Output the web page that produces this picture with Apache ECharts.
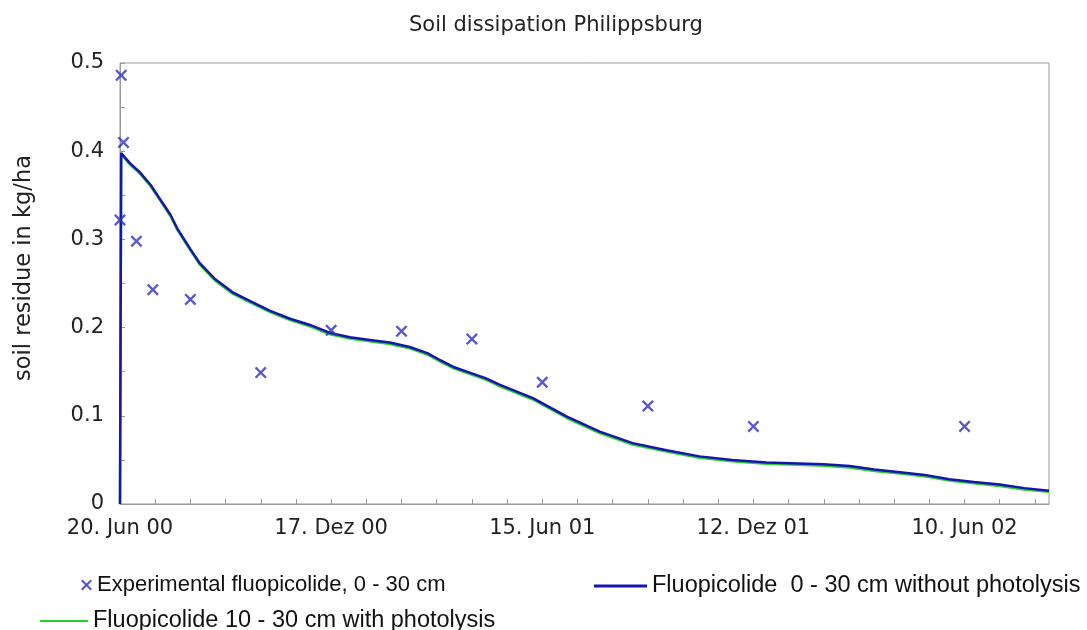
<!DOCTYPE html>
<html>
<head>
<meta charset="utf-8">
<script src="https://cdn.jsdelivr.net/npm/echarts@6/dist/echarts.min.js"></script>
<style>
html,body{margin:0;padding:0;background:#fff;}
#chart{width:1087px;height:630px;}
</style>
</head>
<body>
<div id="chart"></div>
<script>
// Days after 20 Jun 2000
const xTickLabels = ["20. Jun 00", "17. Dez 00", "15. Jun 01", "12. Dez 01", "10. Jun 02"];
const yTickLabels = ["0", "0.1", "0.2", "0.3", "0.4", "0.5"];
const yAxisTitle = "soil residue in kg/ha";

const sampleDays = [0, 1, 3, 14, 28, 60, 120, 180, 240, 300, 360, 450, 540, 720];
const sampleValues = [0.322, 0.486, 0.410, 0.298, 0.243, 0.232, 0.149, 0.197, 0.196, 0.187, 0.138, 0.111, 0.088, 0.088];

const curveDays = [0, 1, 8, 17, 26, 34, 43, 49, 60, 68, 81, 96, 111, 128, 145, 162, 179, 196, 213, 230, 247, 262, 273, 285, 298, 311, 324, 352, 381, 409, 437, 466, 494, 522, 551, 579, 600, 622, 643, 665, 686, 707, 728, 750, 771, 792];
const blueValues = [0, 0.398, 0.387, 0.376, 0.362, 0.346, 0.328, 0.312, 0.289, 0.273, 0.255, 0.240, 0.230, 0.219, 0.210, 0.203, 0.194, 0.189, 0.186, 0.183, 0.178, 0.171, 0.163, 0.155, 0.149, 0.143, 0.135, 0.120, 0.099, 0.082, 0.069, 0.061, 0.054, 0.050, 0.047, 0.046, 0.045, 0.043, 0.039, 0.036, 0.033, 0.028, 0.025, 0.022, 0.018, 0.015];
const greenValues = [0, 0.397, 0.3855, 0.3745, 0.3605, 0.3445, 0.3265, 0.3105, 0.2875, 0.2715, 0.2535, 0.2385, 0.2285, 0.2175, 0.2085, 0.2015, 0.1925, 0.1875, 0.1845, 0.1815, 0.1765, 0.1695, 0.1615, 0.1535, 0.1475, 0.1415, 0.1335, 0.1185, 0.0975, 0.0805, 0.0675, 0.0595, 0.0525, 0.0485, 0.0455, 0.0445, 0.0435, 0.0415, 0.0375, 0.0345, 0.0315, 0.0265, 0.0235, 0.0205, 0.0165, 0.0140];

const seriesNames = ["Experimental fluopicolide, 0 - 30 cm", "Fluopicolide  0 - 30 cm without photolysis", "Fluopicolide 10 - 30 cm with photolysis"];

const xMark = 'path://M0,1.4L1.4,0L5,3.6L8.6,0L10,1.4L6.4,5L10,8.6L8.6,10L5,6.4L1.4,10L0,8.6L3.6,5Z';

const chart = echarts.init(document.getElementById('chart'), null, {renderer: 'canvas'});
const font = 'DejaVu Sans';
const legFont = 'Liberation Sans';

chart.setOption({
  animation: false,
  backgroundColor: '#fff',
  title: {
    text: 'Soil dissipation Philippsburg',
    left: 404, top: 10,
    textStyle: {fontFamily: font, fontSize: 21, fontWeight: 'normal', color: '#222'}
  },
  graphic: [{
    type: 'text', x: 24, y: 268, rotation: Math.PI / 2,
    style: {text: yAxisTitle, fontFamily: font, fontSize: 22.5, fill: '#222', align: 'center', verticalAlign: 'middle'}
  }],
  grid: {left: 120, right: 38, top: 63, bottom: 126, show: true, borderColor: '#999', borderWidth: 1, backgroundColor: 'transparent'},
  legend: [
    {data: [seriesNames[0]], left: 76, top: 569, itemWidth: 11, itemHeight: 11, icon: xMark,
     textStyle: {fontFamily: legFont, fontSize: 22, color: '#111'}},
    {data: [seriesNames[1]], left: 589, top: 569, itemWidth: 53, itemHeight: 3, icon: 'rect',
     textStyle: {fontFamily: legFont, fontSize: 23.5, color: '#111'}},
    {data: [seriesNames[2]], left: 35, top: 604, itemWidth: 48, itemHeight: 2, icon: 'rect',
     textStyle: {fontFamily: legFont, fontSize: 23.5, color: '#111'}}
  ],
  xAxis: {
    type: 'value', min: 0, max: 792, interval: 30,
    axisLine: {show: true, lineStyle: {color: '#999'}},
    axisTick: {show: true, inside: true, length: 5, lineStyle: {color: '#999'}},
    splitLine: {show: false},
    axisLabel: {
      showMaxLabel: false, margin: 14,
      fontFamily: font, fontSize: 21, color: '#222',
      formatter: function (v) { return (v % 180 === 0) ? xTickLabels[v / 180] : ''; }
    }
  },
  yAxis: {
    type: 'value', min: 0, max: 0.5, interval: 0.05,
    axisLine: {show: true, lineStyle: {color: '#999'}},
    axisTick: {show: true, inside: true, length: 5, lineStyle: {color: '#999'}},
    splitLine: {show: false},
    axisLabel: {
      margin: 16, fontFamily: font, fontSize: 21, color: '#222',
      formatter: function (v) { const k = Math.round(v * 100); return (k % 10 === 0) ? yTickLabels[k / 10] : ''; }
    }
  },
  series: [
    {
      name: seriesNames[2], type: 'line', showSymbol: false, symbol: 'none',
      color: '#2ad02a', lineStyle: {color: '#2ad02a', width: 2.5},
      data: curveDays.map((d, i) => [d, greenValues[i]]), z: 2
    },
    {
      name: seriesNames[1], type: 'line', showSymbol: false, symbol: 'none',
      color: '#1515b0', lineStyle: {color: '#1515b0', width: 2.5},
      data: curveDays.map((d, i) => [d, blueValues[i]]), z: 3
    },
    {
      name: seriesNames[0], type: 'scatter', symbol: xMark, symbolSize: 12,
      color: '#2f2fbf', itemStyle: {color: '#2f2fbf'},
      data: sampleDays.map((d, i) => [d, sampleValues[i]]), z: 4
    }
  ]
});
</script>
</body>
</html>
